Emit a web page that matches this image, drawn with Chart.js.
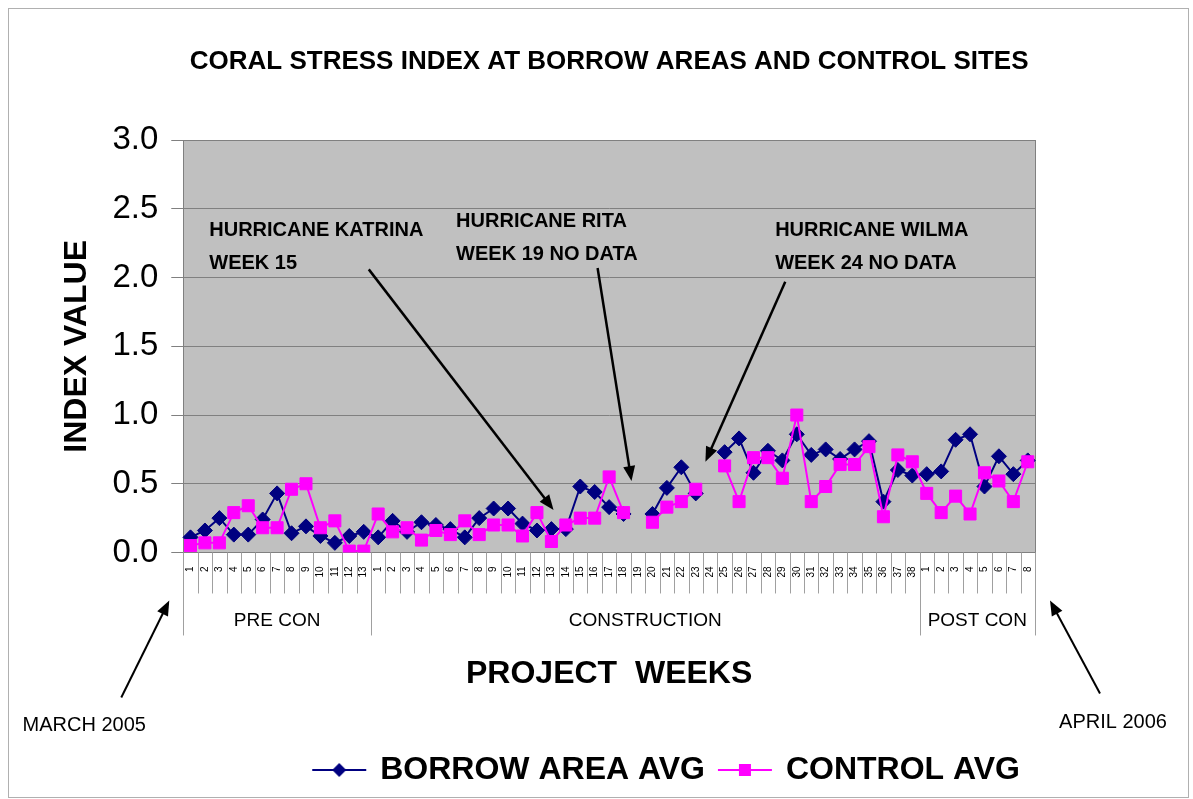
<!DOCTYPE html>
<html lang="en">
<head>
    <meta charset="UTF-8">
    <title>Coral Stress Index</title>
    <script src="https://cdn.jsdelivr.net/npm/chart.js"></script>
    <style>
        body { margin: 0; background: #fff; }
        #stressChart { display: block; }
    </style>
</head>
<body>

<canvas id="stressChart" width="1193" height="799"></canvas>

<script>
    // week numbers, restarting in each project phase
    const preWeeks = [1, 2, 3, 4, 5, 6, 7, 8, 9, 10, 11, 12, 13];
    const constructionWeeks = [1, 2, 3, 4, 5, 6, 7, 8, 9, 10, 11, 12, 13, 14, 15, 16, 17, 18, 19, 20,
        21, 22, 23, 24, 25, 26, 27, 28, 29, 30, 31, 32, 33, 34, 35, 36, 37, 38];
    const postWeeks = [1, 2, 3, 4, 5, 6, 7, 8];
    const phaseNames = ['PRE CON', 'CONSTRUCTION', 'POST CON'];

    // index values (null = no data, hurricane weeks)
    const borrowPre = [0.11, 0.16, 0.25, 0.13, 0.13, 0.24, 0.43, 0.14, 0.19, 0.12, 0.07, 0.12, 0.15];
    const borrowConstruction = [0.11, 0.23, 0.15, 0.22, 0.20, 0.17, 0.11, 0.25, 0.32, 0.32,
        0.21, 0.16, 0.17, 0.17, 0.48, 0.44, 0.33, 0.28, null, 0.28,
        0.47, 0.62, 0.43, null, 0.73, 0.83, 0.58, 0.74, 0.67, 0.86,
        0.71, 0.75, 0.68, 0.75, 0.81, 0.37, 0.60, 0.56];
    const borrowPost = [0.57, 0.59, 0.82, 0.86, 0.48, 0.70, 0.57, 0.67];

    const controlPre = [0.05, 0.07, 0.07, 0.29, 0.34, 0.18, 0.18, 0.46, 0.50, 0.18, 0.23, 0.01, 0.01];
    const controlConstruction = [0.28, 0.15, 0.18, 0.09, 0.16, 0.13, 0.23, 0.13, 0.20, 0.20,
        0.12, 0.29, 0.08, 0.20, 0.25, 0.25, 0.55, 0.29, null, 0.22,
        0.33, 0.37, 0.46, null, 0.63, 0.37, 0.69, 0.69, 0.54, 1.00,
        0.37, 0.48, 0.64, 0.64, 0.77, 0.26, 0.71, 0.66];
    const controlPost = [0.43, 0.29, 0.41, 0.28, 0.58, 0.52, 0.37, 0.66];

    const yTicks = [0, 0.5, 1.0, 1.5, 2.0, 2.5, 3.0];

    const phases = [preWeeks, constructionWeeks, postWeeks];
    const labels = [].concat(preWeeks, constructionWeeks, postWeeks);
    const borrowAvg = [].concat(borrowPre, borrowConstruction, borrowPost);
    const controlAvg = [].concat(controlPre, controlConstruction, controlPost);

    // hurricane notes, placed in data units (category index, index value)
    const hurricaneNotes = [
        { lines: ['HURRICANE KATRINA', 'WEEK 15'], text: [1.3, 2.34], from: [12.35, 2.06], to: [25.15, 0.31] },
        { lines: ['HURRICANE RITA', 'WEEK 19 NO DATA'], text: [18.4, 2.41], from: [28.2, 2.07], to: [30.55, 0.52] },
        { lines: ['HURRICANE WILMA', 'WEEK 24 NO DATA'], text: [40.5, 2.34], from: [41.2, 1.97], to: [35.67, 0.66] }
    ];

    Chart.defaults.font.family = "'Liberation Sans', Arial, sans-serif";
    Chart.defaults.color = '#000';

    function drawArrow(ctx, x1, y1, x2, y2) {
        const a = Math.atan2(y2 - y1, x2 - x1);
        const len = 15, half = 6;
        ctx.beginPath();
        ctx.moveTo(x1, y1);
        ctx.lineTo(x2 - len * 0.8 * Math.cos(a), y2 - len * 0.8 * Math.sin(a));
        ctx.stroke();
        ctx.beginPath();
        ctx.moveTo(x2, y2);
        ctx.lineTo(x2 - len * Math.cos(a) + half * Math.sin(a), y2 - len * Math.sin(a) - half * Math.cos(a));
        ctx.lineTo(x2 - len * Math.cos(a) - half * Math.sin(a), y2 - len * Math.sin(a) + half * Math.cos(a));
        ctx.closePath();
        ctx.fill();
    }

    function legendIcon(color, style) {
        const c = document.createElement('canvas');
        c.width = 56;
        c.height = 20;
        const g = c.getContext('2d');
        g.strokeStyle = color;
        g.fillStyle = color;
        g.lineWidth = 2;
        g.beginPath();
        g.moveTo(1, 10);
        g.lineTo(55, 10);
        g.stroke();
        g.beginPath();
        if (style === 'rectRot') {
            g.moveTo(28, 3); g.lineTo(35, 10); g.lineTo(28, 17); g.lineTo(21, 10);
        } else {
            g.rect(22, 4, 12, 12);
        }
        g.fill();
        return c;
    }

    const decorations = {
        id: 'decorations',
        beforeDraw(chart) {
            const { ctx, chartArea: a } = chart;
            ctx.save();
            ctx.fillStyle = '#fff';
            ctx.fillRect(0, 0, chart.width, chart.height);
            ctx.fillStyle = '#c0c0c0';
            ctx.fillRect(a.left, a.top, a.width, a.height);
            ctx.restore();
        },
        beforeDatasetsDraw(chart) {
            const { ctx, chartArea: a } = chart;
            ctx.save();
            ctx.strokeStyle = '#808080';
            ctx.lineWidth = 1;
            ctx.strokeRect(Math.round(a.left) + 0.5, Math.round(a.top) + 0.5,
                Math.round(a.width), Math.round(a.height));
            ctx.restore();
        },
        afterDraw(chart) {
            const { ctx, chartArea: a } = chart;
            const xs = chart.scales.x, ys = chart.scales.y;
            ctx.save();

            // week separators and phase groups below the axis
            const bounds = [0];
            phases.forEach(p => bounds.push(bounds[bounds.length - 1] + p.length));
            ctx.strokeStyle = '#a0a0a0';
            ctx.lineWidth = 1;
            for (let i = 0; i <= labels.length; i++) {
                const x = Math.round(xs.getPixelForValue(i - 0.5)) + 0.5;
                const deep = bounds.includes(i);
                ctx.beginPath();
                ctx.moveTo(x, a.bottom);
                ctx.lineTo(x, a.bottom + (deep ? 83 : 41));
                ctx.stroke();
            }
            ctx.fillStyle = '#000';
            ctx.font = "19px 'Liberation Sans', Arial, sans-serif";
            ctx.textAlign = 'center';
            ctx.textBaseline = 'middle';
            phaseNames.forEach((name, k) => {
                const x0 = xs.getPixelForValue(bounds[k] - 0.5);
                const x1 = xs.getPixelForValue(bounds[k + 1] - 0.5);
                ctx.fillText(name, (x0 + x1) / 2, a.bottom + 68);
            });

            // hurricane notes
            ctx.font = "bold 20px 'Liberation Sans', Arial, sans-serif";
            ctx.textAlign = 'left';
            ctx.strokeStyle = '#000';
            ctx.fillStyle = '#000';
            ctx.lineWidth = 2.5;
            hurricaneNotes.forEach(n => {
                const tx = xs.getPixelForValue(n.text[0]);
                const ty = ys.getPixelForValue(n.text[1]);
                n.lines.forEach((line, j) => ctx.fillText(line, tx, ty + j * 33));
                drawArrow(ctx, xs.getPixelForValue(n.from[0]), ys.getPixelForValue(n.from[1]),
                    xs.getPixelForValue(n.to[0]), ys.getPixelForValue(n.to[1]));
            });

            // start / end dates
            ctx.font = "20px 'Liberation Sans', Arial, sans-serif";
            ctx.textAlign = 'center';
            ctx.lineWidth = 2;
            drawArrow(ctx, a.left - 62, a.bottom + 145, a.left - 14, a.bottom + 48);
            ctx.fillText('MARCH 2005', a.left - 99, a.bottom + 173);
            drawArrow(ctx, a.right + 65, a.bottom + 141, a.right + 15, a.bottom + 48);
            ctx.fillText('APRIL 2006', a.right + 78, a.bottom + 170);

            // outer frame
            ctx.strokeStyle = '#b0b0b0';
            ctx.lineWidth = 1;
            ctx.strokeRect(8.5, 8.5, 1180, 789);
            ctx.restore();
        }
    };

    const ctx = document.getElementById('stressChart').getContext('2d');

    new Chart(ctx, {
        type: 'line',
        data: {
            labels: labels,
            datasets: [{
                label: 'BORROW AREA AVG',
                data: borrowAvg,
                borderColor: '#000080',
                backgroundColor: '#000080',
                borderWidth: 2,
                pointStyle: 'rectRot',
                pointRadius: 7.5,
                pointBorderWidth: 1,
                order: 2
            }, {
                label: 'CONTROL AVG',
                data: controlAvg,
                borderColor: '#ff00ff',
                backgroundColor: '#ff00ff',
                borderWidth: 2,
                pointStyle: 'rect',
                pointRadius: 8.5,
                pointBorderWidth: 1,
                order: 1
            }]
        },
        options: {
            responsive: false,
            animation: false,
            events: [],
            layout: { padding: { left: 8, right: 158, top: 0, bottom: 3 } },
            plugins: {
                tooltip: { enabled: false },
                title: {
                    display: true,
                    fullSize: false,
                    text: 'CORAL STRESS INDEX AT BORROW AREAS AND CONTROL SITES',
                    font: { size: 26, weight: 'bold' },
                    color: '#000',
                    padding: { top: 46, bottom: 63 }
                },
                legend: {
                    position: 'bottom',
                    fullSize: false,
                    align: 'end',
                    labels: {
                        usePointStyle: true,
                        pointStyleWidth: 50,
                        padding: 15,
                        font: { size: 32, weight: 'bold' },
                        color: '#000',
                        generateLabels: chart => chart.data.datasets.map((ds, i) => ({
                            text: ds.label,
                            pointStyle: legendIcon(ds.borderColor, ds.pointStyle),
                            datasetIndex: i,
                            hidden: false,
                            lineWidth: 0,
                            fontColor: '#000'
                        }))
                    }
                }
            },
            scales: {
                x: {
                    offset: true,
                    grid: { display: false, drawTicks: false },
                    border: { display: true, color: '#808080' },
                    ticks: {
                        autoSkip: false,
                        minRotation: 90,
                        maxRotation: 90,
                        padding: 14,
                        font: { size: 10 },
                        color: '#000'
                    },
                    title: {
                        display: true,
                        text: 'PROJECT  WEEKS',
                        font: { size: 32, weight: 'bold' },
                        color: '#000',
                        padding: { top: 63, bottom: 46 }
                    }
                },
                y: {
                    min: 0,
                    max: 3,
                    afterBuildTicks: scale => { scale.ticks = yTicks.map(v => ({ value: v })); },
                    ticks: {
                        padding: 13,
                        font: { size: 33 },
                        color: '#000',
                        callback: v => Number(v).toFixed(1)
                    },
                    grid: { color: '#808080', tickLength: 12 },
                    border: { color: '#808080' },
                    title: {
                        display: true,
                        text: 'INDEX VALUE',
                        font: { size: 32, weight: 'bold' },
                        color: '#000',
                        padding: { top: 50, bottom: 3 }
                    }
                }
            }
        },
        plugins: [decorations]
    });
</script>

</body>
</html>
